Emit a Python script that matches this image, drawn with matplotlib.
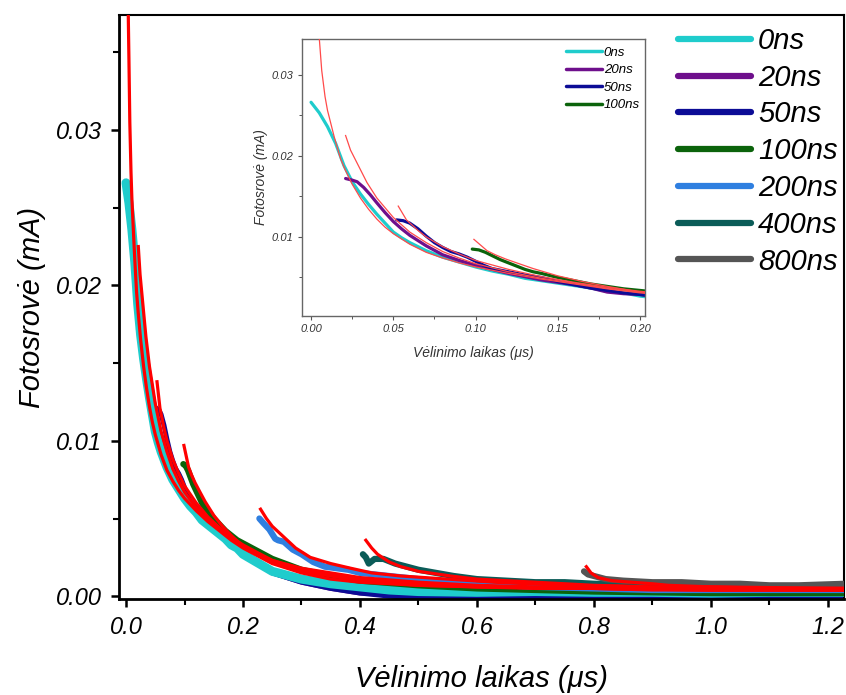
import numpy as np
import matplotlib.pyplot as plt
from matplotlib.ticker import MultipleLocator, FormatStrFormatter

plt.rcParams['font.family'] = ['Liberation Sans', 'DejaVu Sans']
plt.rcParams['font.style'] = 'italic'

# measured photocurrent decays (delay in us, current in mA)
labels = ["0ns", "20ns", "50ns", "100ns", "200ns", "400ns", "800ns"]
colors = ["#1fcccc", "#6e0f8c", "#0c0c96", "#0b630b", "#2f7fe0", "#0b5c58", "#555555"]

x_0 = [0.000, 0.005, 0.010, 0.015, 0.020, 0.025, 0.030, 0.035, 0.040, 0.045,
       0.050, 0.055, 0.060, 0.070, 0.080, 0.090, 0.100, 0.110, 0.120, 0.130,
       0.140, 0.150, 0.160, 0.170, 0.180, 0.190, 0.200, 0.250, 0.300, 0.350,
       0.400, 0.450, 0.500, 0.600, 0.700, 0.800, 0.900, 1.000, 1.100, 1.230]
y_0 = [0.0266, 0.0253, 0.0236, 0.0215, 0.0188, 0.0168, 0.0153, 0.0140, 0.0128, 0.0117,
       0.0106, 0.0099, 0.0093, 0.0083, 0.0075, 0.0069, 0.0063, 0.0058, 0.0054, 0.0049,
       0.0046, 0.0043, 0.0040, 0.0037, 0.0033, 0.0031, 0.0027, 0.0016, 0.0011, 0.0008,
       0.0006, 0.0004, 0.0003, 0.00025, 0.0003, 0.00025, 0.00025, 0.0002, 0.00025, 0.00025]

x_20 = [0.021, 0.025, 0.028, 0.032, 0.036, 0.040, 0.045, 0.050, 0.055, 0.060,
        0.070, 0.080, 0.090, 0.100, 0.110, 0.120, 0.130, 0.140, 0.150, 0.160,
        0.170, 0.180, 0.190, 0.200, 0.250, 0.300, 0.350, 0.400, 0.500, 0.600,
        0.800, 1.000, 1.230]
y_20 = [0.0172, 0.0170, 0.0168, 0.0161, 0.0152, 0.0142, 0.0130, 0.0119, 0.0110, 0.0102,
        0.0089, 0.0078, 0.0071, 0.0065, 0.0060, 0.0055, 0.0051, 0.0047, 0.0044, 0.0041,
        0.0037, 0.0032, 0.0030, 0.0029, 0.0015, 0.0009, 0.0005, 0.0002, -0.0000, -0.0001,
        0.0000, -0.0001, 0.0000]

x_50 = [0.052, 0.056, 0.060, 0.065, 0.070, 0.075, 0.080, 0.085, 0.090, 0.095,
        0.100, 0.105, 0.110, 0.120, 0.130, 0.140, 0.150, 0.160, 0.170, 0.180,
        0.190, 0.200, 0.250, 0.300, 0.350, 0.400, 0.450, 0.500, 0.600, 0.800,
        1.000, 1.230]
y_50 = [0.0121, 0.0120, 0.0117, 0.0110, 0.0101, 0.0093, 0.0087, 0.0082, 0.0079, 0.0075,
        0.0070, 0.0065, 0.0061, 0.0057, 0.0053, 0.0050, 0.0045, 0.0041, 0.0037, 0.0034,
        0.0031, 0.0029, 0.0015, 0.0009, 0.0005, 0.0002, -0.0000, -0.0001, -0.0001, -0.0001,
        -0.0001, 0.0000]

x_100 = [0.098, 0.102, 0.106, 0.110, 0.115, 0.120, 0.125, 0.130, 0.135, 0.140,
         0.150, 0.160, 0.170, 0.180, 0.190, 0.200, 0.250, 0.300, 0.350, 0.400,
         0.500, 0.600, 0.800, 1.000, 1.230]
y_100 = [0.0085, 0.0084, 0.0081, 0.0077, 0.0072, 0.0068, 0.0064, 0.0060, 0.0057, 0.0055,
         0.0050, 0.0046, 0.0042, 0.0039, 0.0036, 0.0034, 0.0024, 0.0017, 0.0013, 0.0010,
         0.0007, 0.0005, 0.0003, 0.0002, 0.0002]

x_200 = [0.228, 0.235, 0.245, 0.255, 0.260, 0.270, 0.285, 0.300, 0.320, 0.340,
         0.360, 0.380, 0.400, 0.450, 0.500, 0.550, 0.600, 0.700, 0.800, 0.900,
         1.000, 1.100, 1.230]
y_200 = [0.0050, 0.0047, 0.0043, 0.0037, 0.0036, 0.0035, 0.0030, 0.0027, 0.0022, 0.0019,
         0.0018, 0.0017, 0.0015, 0.0013, 0.0011, 0.0009, 0.0008, 0.0006, 0.0005, 0.0004,
         0.0004, 0.0004, 0.0004]

x_400 = [0.405, 0.410, 0.415, 0.425, 0.440, 0.460, 0.480, 0.500, 0.530, 0.560,
         0.600, 0.650, 0.700, 0.750, 0.800, 0.900, 1.000, 1.100, 1.230]
y_400 = [0.0027, 0.0025, 0.0021, 0.0024, 0.0024, 0.0021, 0.0019, 0.0017, 0.0015, 0.0013,
         0.0011, 0.0010, 0.0009, 0.0009, 0.0008, 0.0007, 0.0007, 0.0006, 0.0007]

x_800 = [0.783, 0.790, 0.800, 0.820, 0.850, 0.900, 0.950, 1.000, 1.050, 1.100,
         1.150, 1.230]
y_800 = [0.0016, 0.0014, 0.0013, 0.0011, 0.0010, 0.0009, 0.0009, 0.0008, 0.0008, 0.0007,
         0.0007, 0.0008]

# fitted decay curves
fx_0 = [0.003, 0.004, 0.005, 0.0065, 0.0085, 0.010, 0.012, 0.014, 0.0158, 0.018,
        0.0207, 0.025, 0.030, 0.035, 0.040, 0.045, 0.050, 0.060, 0.070, 0.080,
        0.090, 0.100, 0.120, 0.140, 0.160, 0.180, 0.200, 0.250, 0.300, 0.350,
        0.400, 0.500, 0.600, 0.700, 0.800, 0.900, 1.000, 1.100, 1.230]
fy_0 = [0.0400, 0.0370, 0.0345, 0.0305, 0.0273, 0.0256, 0.0240, 0.0224, 0.0211, 0.0196,
        0.0183, 0.0165, 0.0148, 0.0134, 0.0122, 0.0112, 0.0104, 0.0091, 0.0081, 0.0074,
        0.0068, 0.0063, 0.0055, 0.0048, 0.0042, 0.0036, 0.0031, 0.0021, 0.0015, 0.0011,
        0.0009, 0.0007, 0.0006, 0.0005, 0.0005, 0.0004, 0.0004, 0.0004, 0.0004]

fx_20 = [0.021, 0.024, 0.028, 0.034, 0.040, 0.050, 0.060, 0.070, 0.080, 0.090,
         0.100, 0.120, 0.140, 0.160, 0.180, 0.200, 0.250, 0.300, 0.400, 0.500,
         0.600, 0.800, 1.000, 1.230]
fy_20 = [0.0225, 0.0207, 0.0191, 0.0167, 0.0148, 0.0124, 0.0106, 0.0093, 0.0082, 0.0074,
         0.0067, 0.0057, 0.0049, 0.0043, 0.0037, 0.0032, 0.0022, 0.0016, 0.0010, 0.0007,
         0.0006, 0.0005, 0.0004, 0.0004]

fx_50 = [0.053, 0.058, 0.065, 0.070, 0.080, 0.090, 0.100, 0.120, 0.140, 0.160,
         0.180, 0.200, 0.250, 0.300, 0.400, 0.500, 0.600, 0.800, 1.000, 1.230]
fy_50 = [0.0138, 0.0121, 0.0108, 0.0100, 0.0088, 0.0079, 0.0071, 0.0060, 0.0051, 0.0044,
         0.0038, 0.0033, 0.0023, 0.0017, 0.0011, 0.0008, 0.0006, 0.0005, 0.0004, 0.0004]

fx_100 = [0.099, 0.103, 0.107, 0.112, 0.118, 0.125, 0.135, 0.150, 0.165, 0.180,
          0.200, 0.250, 0.300, 0.400, 0.500, 0.600, 0.800, 1.000, 1.230]
fy_100 = [0.0097, 0.0090, 0.0083, 0.0078, 0.0073, 0.0068, 0.0061, 0.0052, 0.0045, 0.0039,
          0.0032, 0.0023, 0.0018, 0.0012, 0.0009, 0.0007, 0.0005, 0.0005, 0.0004]

fx_200 = [0.230, 0.240, 0.250, 0.270, 0.290, 0.315, 0.350, 0.384, 0.420, 0.470,
          0.550, 0.630, 0.750, 0.900, 1.050, 1.230]
fy_200 = [0.0056, 0.0050, 0.0045, 0.0038, 0.0031, 0.0025, 0.0021, 0.0018, 0.0015, 0.0013,
          0.0011, 0.0009, 0.0007, 0.0006, 0.0005, 0.0005]

fx_400 = [0.410, 0.420, 0.430, 0.450, 0.470, 0.500, 0.555, 0.600, 0.700, 0.800,
          0.900, 1.000, 1.230]
fy_400 = [0.0036, 0.0031, 0.0027, 0.0022, 0.0019, 0.0016, 0.0013, 0.0011, 0.0009, 0.0007,
          0.0006, 0.0006, 0.0005]

fx_800 = [0.787, 0.795, 0.807, 0.830, 0.864, 0.900, 0.927, 1.000, 1.100, 1.230]
fy_800 = [0.0019, 0.0015, 0.0012, 0.0010, 0.0009, 0.0008, 0.0007, 0.0006, 0.0005, 0.0005]

series = [(x_0, y_0), (x_20, y_20), (x_50, y_50), (x_100, y_100),
          (x_200, y_200), (x_400, y_400), (x_800, y_800)]
fits = [(fx_0, fy_0), (fx_20, fy_20), (fx_50, fy_50), (fx_100, fy_100),
        (fx_200, fy_200), (fx_400, fy_400), (fx_800, fy_800)]

fig = plt.figure(figsize=(8.46, 6.95), dpi=100)
ax = fig.add_axes([119/846, 1 - 599/695, 725/846, 584/695])

# purple and navy sit under the cyan band in the full view
main_z = [3, 2, 2.1, 3.1, 3.2, 3.3, 3.4]
main_lw = [6.5, 3.5, 3.5, 4.5, 4.5, 4.5, 4.5]
handles = []
for (xs, ys), c, lab, z, lw in zip(series, colors, labels, main_z, main_lw):
    h, = ax.plot(xs, ys, color=c, lw=lw, label=lab, solid_capstyle='round',
                 solid_joinstyle='round', zorder=z)
    handles.append(h)
for fx, fy in fits:
    ax.plot(fx, fy, color='red', lw=2.3, zorder=4)

ax.set_xlim(-0.012, 1.2275)
ax.set_ylim(-0.00018, 0.0374)
ax.xaxis.set_major_locator(MultipleLocator(0.2))
ax.xaxis.set_minor_locator(MultipleLocator(0.1))
ax.yaxis.set_major_locator(MultipleLocator(0.01))
ax.yaxis.set_minor_locator(MultipleLocator(0.005))
ax.xaxis.set_major_formatter(FormatStrFormatter('%.1f'))
ax.yaxis.set_major_formatter(FormatStrFormatter('%.2f'))
ax.tick_params(which='major', direction='out', length=6, width=1.8, labelsize=17, pad=6)
ax.tick_params(which='minor', direction='out', length=4, width=1.5)
ax.tick_params(top=False, right=False)
for s in ['left', 'bottom']:
    ax.spines[s].set_linewidth(2.0)
for s in ['top', 'right']:
    ax.spines[s].set_linewidth(1.5)
ax.set_xlabel('Vėlinimo laikas (μs)', fontsize=21)
ax.set_ylabel('Fotosrovė (mA)', fontsize=21)
ax.xaxis.set_label_coords(0.50, -0.113)
ax.yaxis.set_label_coords(-0.101, 0.50)

leg = fig.legend(handles=handles, loc='upper left', bbox_to_anchor=(678/846, 1 - 27/695),
                 frameon=False, fontsize=21, handlelength=2.5, handletextpad=0.25,
                 labelspacing=0.3, borderpad=0, borderaxespad=0)
for line in leg.get_lines():
    line.set_linewidth(4.5)
    line.set_solid_capstyle('round')

# zoomed view of the first 200 ns
ins = fig.add_axes([302/846, 1 - 316/695, 343/846, 277/695])
for i, ((xs, ys), c, lab) in enumerate(zip(series[:4], colors[:4], labels[:4])):
    ins.plot(xs, ys, color=c, lw=2.3, label=lab, solid_capstyle='round', zorder=2 + i * 0.1)
for fx, fy in fits[:4]:
    ins.plot(fx, fy, color='#ff4a4a', lw=0.9, zorder=4)
ins.set_xlim(-0.0055, 0.203)
ins.set_ylim(0.00025, 0.0344)
ins.xaxis.set_major_locator(MultipleLocator(0.05))
ins.xaxis.set_minor_locator(MultipleLocator(0.025))
ins.yaxis.set_major_locator(MultipleLocator(0.01))
ins.yaxis.set_minor_locator(MultipleLocator(0.005))
ins.xaxis.set_major_formatter(FormatStrFormatter('%.2f'))
ins.yaxis.set_major_formatter(FormatStrFormatter('%.2f'))
ins.tick_params(which='major', direction='out', length=3, width=0.8, labelsize=8,
                colors='#555555', labelcolor='#333333', pad=3)
ins.tick_params(which='minor', direction='out', length=2, width=0.7, colors='#555555')
for s in ins.spines.values():
    s.set_linewidth(1.0)
    s.set_color('#666666')
ins.set_xlabel('Vėlinimo laikas (μs)', fontsize=10, color='#333333')
ins.set_ylabel('Fotosrovė (mA)', fontsize=10, color='#333333')
ins.xaxis.set_label_coords(0.50, -0.108)
ins.yaxis.set_label_coords(-0.100, 0.50)
ileg = ins.legend(loc='upper left', bbox_to_anchor=(566/846, 1 - 46.5/695),
                  bbox_transform=fig.transFigure, frameon=False, fontsize=9.5,
                  handlelength=2.7, handletextpad=0.15, labelspacing=0.4,
                  borderpad=0, borderaxespad=0)
for line in ileg.get_lines():
    line.set_linewidth(2.5)

fig.savefig('out.png', dpi=100)
